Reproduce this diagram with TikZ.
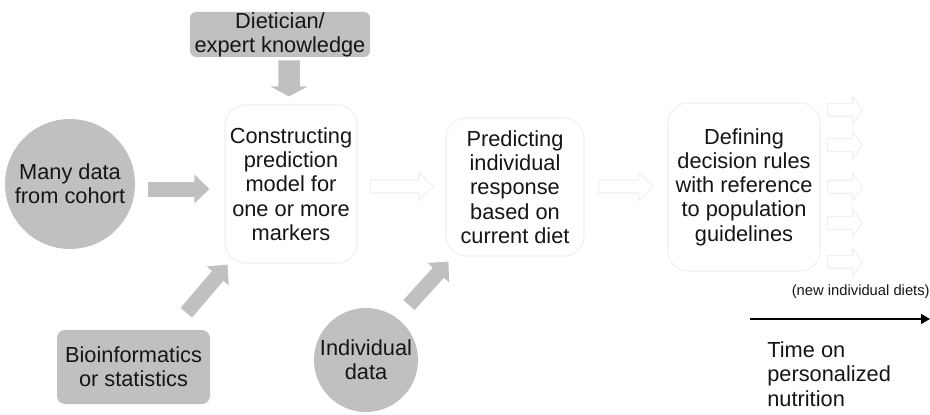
\documentclass[tikz,border=0pt]{standalone}
\usepackage{fontspec}
\setmainfont{Liberation Sans}
\usetikzlibrary{arrows.meta}

\definecolor{boxgrey}{HTML}{C0C0C0}
\definecolor{paleline}{HTML}{F0F0F0}
\definecolor{inktext}{HTML}{151515}

\tikzset{
    every node/.style={text=inktext, align=center, inner sep=0pt,
        font=\fontsize{12.4}{13.8}\selectfont},
    greybox/.style={fill=boxgrey, rounded corners=0.12cm},
    greycircle/.style={circle, fill=boxgrey},
    stepbox/.style={draw=paleline, line width=0.6pt, rounded corners=0.4cm},
    bigarrow/.style={draw=boxgrey, line width=0.3cm,
        -{Triangle[width=0.56cm,length=0.3cm]}},
    downarrow/.style={draw=boxgrey, line width=0.43cm,
        -{Triangle[width=0.73cm,length=0.2cm]}},
    timeline/.style={line width=0.9pt, -{Triangle[width=0.2cm,length=0.18cm]}},
    faintline/.style={draw=paleline, line width=0.6pt, fill=white},
    pics/hollow arrow/.style 2 args={code={
        \draw[faintline] (0,-0.13) -- (#1-#2,-0.13) -- (#1-#2,-0.28) -- (#1,0)
            -- (#1-#2,0.28) -- (#1-#2,0.13) -- (0,0.13) -- cycle;
    }}
}

\begin{document}
\begin{tikzpicture}
    \useasboundingbox (0,0) rectangle (18.6,8.28);

    \node[greybox, minimum width=3.6cm, minimum height=0.9cm] (expert) at (5.6,7.59) {Dietician/\\expert knowledge};
    \node[greycircle, minimum size=2.6cm] (cohort) at (1.4,4.6) {Many data\\from cohort};
    \node[stepbox, minimum width=2.64cm, minimum height=3.16cm] (model) at (5.82,4.6) {Constructing\\prediction\\model for\\one or more\\markers};
    \node[stepbox, minimum width=2.76cm, minimum height=2.76cm] (predict) at (10.3,4.54) {Predicting\\individual\\response\\based on\\current diet};
    \node[stepbox, minimum width=3.04cm, minimum height=3.36cm] (decide) at (14.88,4.54) {Defining\\decision rules\\with reference\\to population\\guidelines};
    \node[greybox, rounded corners=0.16cm, minimum width=3.06cm, minimum height=1.48cm] (bio) at (2.67,0.94) {Bioinformatics\\or statistics};
    \node[greycircle, minimum size=2.08cm] (indiv) at (7.32,1.08) {Individual\\data};

    \draw[downarrow] ([shift={(0.18,-0.06)}]expert.south) -- ([shift={(-0.04,0.16)}]model.north);
    \draw[bigarrow] ([shift={(0.26,-0.1)}]cohort.east) -- ([shift={(-0.3,-0.1)}]model.west);
    \draw[bigarrow] ([shift={(-0.48,0.34)}]bio.north east) -- ([shift={(0.06,-0.02)}]model.south west);
    \draw[bigarrow] ([shift={(0.86,1.1)}]indiv.center) -- ([shift={(0.06,-0.1)}]predict.south west);

    \path ([shift={(0.26,-0.05)}]model.east) pic {hollow arrow={1.26}{0.3}};
    \path ([shift={(0.28,0.01)}]predict.east) pic {hollow arrow={1.1}{0.3}};
    \foreach \dy in {1.54,0.84,0,-0.72,-1.5}
        \path ([shift={(0.14,\dy)}]decide.east) pic {hollow arrow={0.7}{0.2}};

    \node[anchor=east, font=\fontsize{8.4}{10}\selectfont] (newdiets) at (18.6,2.44) {(new individual diets)};

    \coordinate (tstart) at (15,1.9);
    \coordinate (tend) at (18.6,1.9);
    \draw[timeline] (tstart) -- (tend);
    \node[anchor=north west, align=left] (timelabel) at (15.34,1.45) {Time on\\personalized\\nutrition};
\end{tikzpicture}
\end{document}
